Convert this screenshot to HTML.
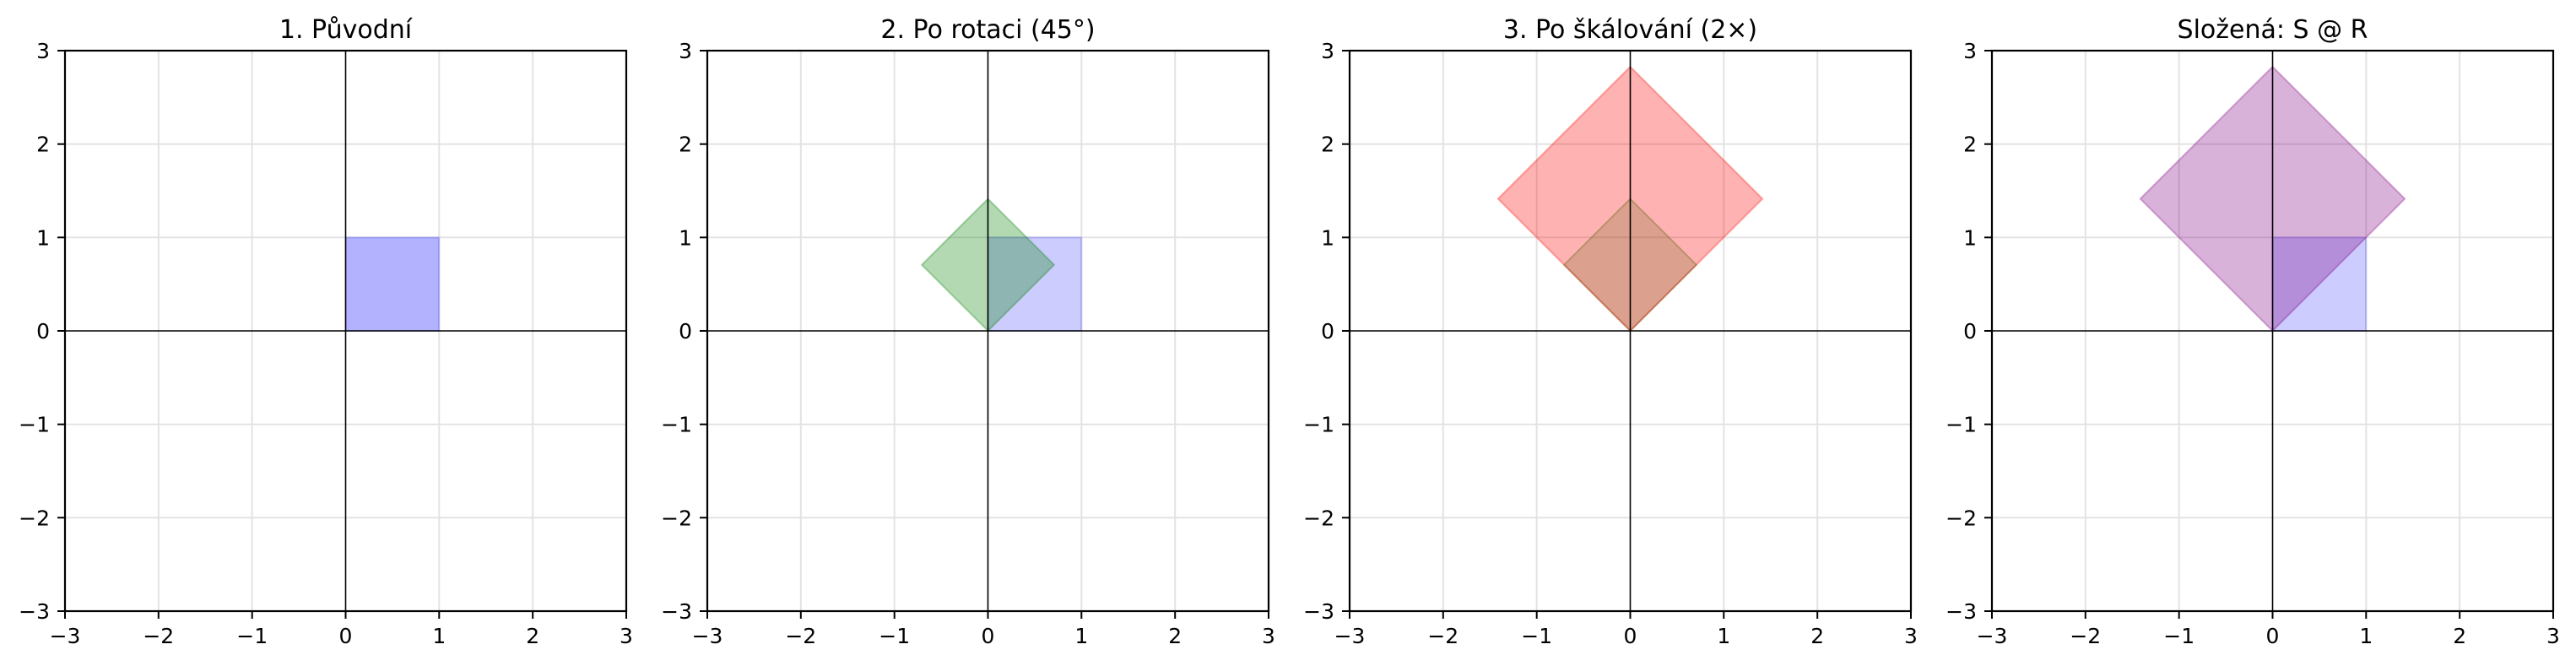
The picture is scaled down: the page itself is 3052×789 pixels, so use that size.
<!DOCTYPE html>
<html><head><meta charset="utf-8"><style>
html,body{margin:0;padding:0;background:#fff;}
svg{display:block;font-family:"DejaVu Sans","Liberation Sans",sans-serif;}
</style></head><body>
<svg width="3052" height="789" viewBox="0 0 3052 789" xmlns="http://www.w3.org/2000/svg">
<defs>
<g id="grid">
  <g stroke="#e3e3e3" stroke-width="2">
    <line x1="110.8" y1="0" x2="110.8" y2="664"/><line x1="221.7" y1="0" x2="221.7" y2="664"/>
    <line x1="443.3" y1="0" x2="443.3" y2="664"/><line x1="554.2" y1="0" x2="554.2" y2="664"/>
    <line x1="0" y1="110.7" x2="665" y2="110.7"/><line x1="0" y1="221.3" x2="665" y2="221.3"/>
    <line x1="0" y1="442.7" x2="665" y2="442.7"/><line x1="0" y1="553.3" x2="665" y2="553.3"/>
  </g>
</g>
<g id="frame">
  <g stroke="#000" stroke-width="1.6">
    <line x1="332.5" y1="0" x2="332.5" y2="664"/><line x1="0" y1="332" x2="665" y2="332"/>
  </g>
  <rect x="0" y="0" width="665" height="664" fill="none" stroke="#000" stroke-width="2.2"/>
  <g stroke="#000" stroke-width="2">
    <line x1="0" y1="664" x2="0" y2="673"/><line x1="110.8" y1="664" x2="110.8" y2="673"/>
    <line x1="221.7" y1="664" x2="221.7" y2="673"/><line x1="332.5" y1="664" x2="332.5" y2="673"/>
    <line x1="443.3" y1="664" x2="443.3" y2="673"/><line x1="554.2" y1="664" x2="554.2" y2="673"/>
    <line x1="665" y1="664" x2="665" y2="673"/>
    <line x1="-9" y1="0" x2="0" y2="0"/><line x1="-9" y1="110.7" x2="0" y2="110.7"/>
    <line x1="-9" y1="221.3" x2="0" y2="221.3"/><line x1="-9" y1="332" x2="0" y2="332"/>
    <line x1="-9" y1="442.7" x2="0" y2="442.7"/><line x1="-9" y1="553.3" x2="0" y2="553.3"/>
    <line x1="-9" y1="664" x2="0" y2="664"/>
  </g>
  <g font-size="25" text-anchor="middle" fill="#000">
    <text x="0" y="702">−3</text><text x="110.8" y="702">−2</text><text x="221.7" y="702">−1</text>
    <text x="332.5" y="702">0</text><text x="443.3" y="702">1</text><text x="554.2" y="702">2</text><text x="665" y="702">3</text>
  </g>
  <g font-size="25" text-anchor="end" fill="#000">
    <text x="-18" y="9">3</text><text x="-18" y="119.7">2</text><text x="-18" y="230.3">1</text>
    <text x="-18" y="341">0</text><text x="-18" y="451.7">−1</text><text x="-18" y="562.3">−2</text><text x="-18" y="673">−3</text>
  </g>
</g>
</defs>

<!-- Panel 1 -->
<g transform="translate(77,60)">
  <use href="#grid"/>
  <rect x="332.5" y="221.3" width="110.8" height="110.7" fill="rgb(0,0,255)" fill-opacity="0.3" stroke="rgb(0,0,255)" stroke-opacity="0.15" stroke-width="2"/>
  <use href="#frame"/>
  <text x="332.5" y="-15" font-size="30" text-anchor="middle">1. Původní</text>
</g>

<!-- Panel 2 -->
<g transform="translate(838,60)">
  <use href="#grid"/>
  <rect x="332.5" y="221.3" width="110.8" height="110.7" fill="rgb(0,0,255)" fill-opacity="0.2" stroke="rgb(0,0,255)" stroke-opacity="0.15" stroke-width="2"/>
  <polygon points="332.5,332 410.9,253.7 332.5,175.5 254.1,253.7" fill="rgb(0,128,0)" fill-opacity="0.3" stroke="rgb(0,128,0)" stroke-opacity="0.3" stroke-width="2"/>
  <use href="#frame"/>
  <text x="332.5" y="-15" font-size="30" text-anchor="middle">2. Po rotaci (45°)</text>
</g>

<!-- Panel 3 -->
<g transform="translate(1599,60)">
  <use href="#grid"/>
  <polygon points="332.5,332 410.9,253.7 332.5,175.5 254.1,253.7" fill="rgb(0,128,0)" fill-opacity="0.2" stroke="rgb(0,128,0)" stroke-opacity="0.3" stroke-width="2"/>
  <polygon points="332.5,332 489.2,175.5 332.5,19 175.8,175.5" fill="rgb(255,0,0)" fill-opacity="0.3" stroke="rgb(255,0,0)" stroke-opacity="0.3" stroke-width="2"/>
  <use href="#frame"/>
  <text x="332.5" y="-15" font-size="30" text-anchor="middle">3. Po škálování (2×)</text>
</g>

<!-- Panel 4 -->
<g transform="translate(2360,60)">
  <use href="#grid"/>
  <rect x="332.5" y="221.3" width="110.8" height="110.7" fill="rgb(0,0,255)" fill-opacity="0.2" stroke="rgb(0,0,255)" stroke-opacity="0.15" stroke-width="2"/>
  <polygon points="332.5,332 489.2,175.5 332.5,19 175.8,175.5" fill="rgb(128,0,128)" fill-opacity="0.3" stroke="rgb(128,0,128)" stroke-opacity="0.3" stroke-width="2"/>
  <use href="#frame"/>
  <text x="332.5" y="-15" font-size="30" text-anchor="middle">Složená: S @ R</text>
</g>
</svg>
</body></html>
